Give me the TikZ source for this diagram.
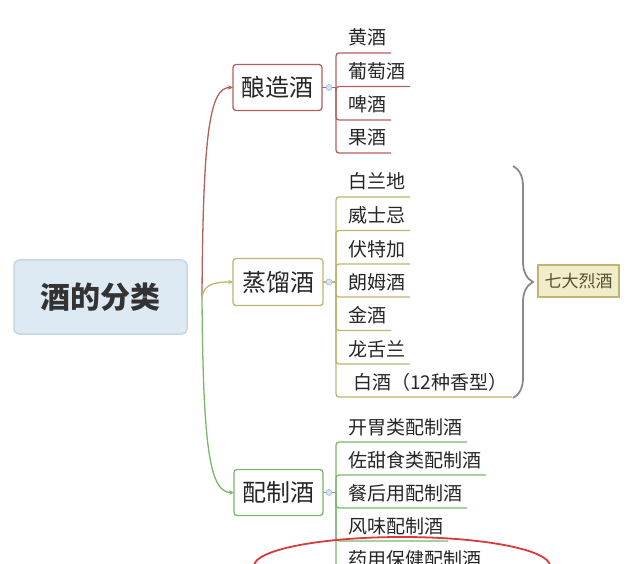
\documentclass[tikz,border=0pt]{standalone}
\usepackage{fontspec}
\setmainfont{Noto Sans CJK SC}
\usepackage{xcolor}
\definecolor{redbr}{HTML}{B3605C}
\definecolor{olvbr}{HTML}{BDB66E}
\definecolor{grnbr}{HTML}{78B76C}
\definecolor{rootfill}{HTML}{DEEAF3}
\definecolor{rootline}{HTML}{C8D7E5}
\definecolor{tagfill}{HTML}{F1EDCA}
\definecolor{tagline}{HTML}{BFB676}
\definecolor{tagtext}{HTML}{55512F}
\definecolor{knobfill}{HTML}{D3E2F8}
\definecolor{knobline}{HTML}{9DB8E4}
\definecolor{bracegray}{HTML}{8A8A8A}
\definecolor{ovalred}{HTML}{D93A3A}
\usepackage{tikz}
\usetikzlibrary{arrows.meta,positioning,shapes.geometric,decorations.pathreplacing}

\begin{document}
\begin{tikzpicture}[x=1pt,y=-1pt,
    every node/.style={inner sep=1,outer sep=0,text=black!85},
    >={Stealth[length=5pt,width=4.5pt]},
    branch/.style={draw,fill=white,rounded corners=3pt,line width=1.3pt,minimum width=89pt,minimum height=46pt,font=\fontsize{24}{24}\selectfont},
    item/.style={anchor=south west,xshift=7pt,inner xsep=5pt,inner ysep=5pt,text height=15pt,text depth=3pt,font=\fontsize{19}{19}\selectfont},
    knob/.style={circle,draw=knobline,fill=knobfill,line width=0.6pt,minimum size=6pt,inner sep=0},
    link/.style={line width=1.3pt,rounded corners=3pt}]
    \useasboundingbox (0,0) rectangle (640,564);

    \node(w)[draw=rootline,fill=rootfill,line width=1.5pt,rounded corners=5pt,minimum width=173pt,minimum height=74pt,
      font=\fontsize{30}{30}\selectfont\bfseries,text=black!80] at (100.5,297) {酒的分类};
    \coordinate(o) at ([xshift=15pt]w.east);

    \node(b1)[branch,draw=redbr] at (277.5,87.5) {酿造酒};
    \node(b2)[branch,draw=olvbr,minimum width=90pt,minimum height=47pt] at (278,282) {蒸馏酒};
    \node(b3)[branch,draw=grnbr] at (278.5,492.5) {配制酒};

    \draw [->,redbr,line width=1.3pt] (o) .. controls (203,130) and (210,87.5) .. (b1.west);
    \draw [->,olvbr,line width=1.3pt] (o) .. controls (204,286) and (211,282) .. (b2.west);
    \draw [->,grnbr,line width=1.3pt] (o) .. controls (203,450) and (210,492.5) .. (b3.west);

    \node(k1)[knob] at (329,87.5) {};
    \node(k2)[knob] at (329,282) {};
    \node(k3)[knob] at (329,492.5) {};
    \coordinate(t1) at ([xshift=7pt]k1.center);
    \coordinate(t2) at ([xshift=7pt]k2.center);
    \coordinate(t3) at ([xshift=7pt]k3.center);

    % fermented
    \node(a1)[item] at (336,53) {黄酒};
    \node(a2)[item] at (336,86.5) {葡萄酒};
    \node(a3)[item] at (336,120) {啤酒};
    \node(a4)[item] at (336,153) {果酒};
    \draw [redbr,link] (b1.east) -- (k1) -- (t1);
    \draw [redbr,link] (t1) |- (a1.south east);
    \draw [redbr,link] (t1) |- (a2.south east);
    \draw [redbr,link] (t1) |- (a3.south east);
    \draw [redbr,link] (t1) |- (a4.south east);

    % distilled
    \node(d1)[item] at (336,197) {白兰地};
    \node(d2)[item] at (336,230.5) {威士忌};
    \node(d3)[item] at (336,264) {伏特加};
    \node(d4)[item] at (336,297) {朗姆酒};
    \node(d5)[item] at (336,330.5) {金酒};
    \node(d6)[item] at (336,364) {龙舌兰};
    \node(d7)[item,xshift=5pt] at (336,397) {白酒（12种香型）};
    \draw [olvbr,link] (b2.east) -- (k2) -- (t2);
    \draw [olvbr,link] (t2) |- (d1.south east);
    \draw [olvbr,link] (t2) |- (d2.south east);
    \draw [olvbr,link] (t2) |- (d3.south east);
    \draw [olvbr,link] (t2) |- (d4.south east);
    \draw [olvbr,link] (t2) |- (d5.south east);
    \draw [olvbr,link] (t2) |- (d6.south east);
    \draw [olvbr,link] (t2) |- (d7.south east);

    % compounded
    \node(m1)[item] at (336,442) {开胃类配制酒};
    \node(m2)[item] at (336,475) {佐甜食类配制酒};
    \node(m3)[item] at (336,508) {餐后用配制酒};
    \node(m4)[item] at (336,541) {风味配制酒};
    \node(m5)[item] at (336,574) {药用保健配制酒};
    \draw [grnbr,link] (b3.east) -- (k3) -- (t3);
    \draw [grnbr,link] (t3) |- (m1.south east);
    \draw [grnbr,link] (t3) |- (m2.south east);
    \draw [grnbr,link] (t3) |- (m3.south east);
    \draw [grnbr,link] (t3) |- (m4.south east);
    \draw [grnbr,link] (t3) |- (m5.south east);

    \coordinate(bt) at (513,166);
    \coordinate(bb) at (513,398);
    \draw [bracegray,line width=1.8pt,decorate,decoration={brace,amplitude=20pt}] (bt) -- (bb);
    \node(s)[draw=tagline,fill=tagfill,line width=1.3pt,minimum width=81pt,minimum height=32pt,
      font=\fontsize{17}{17}\selectfont,text=tagtext] at (578.5,281) {七大烈酒};

    \node(mark)[ellipse,draw=ovalred,line width=1.8pt,minimum width=296pt,minimum height=58pt] at (402,566) {};
\end{tikzpicture}
\end{document}
